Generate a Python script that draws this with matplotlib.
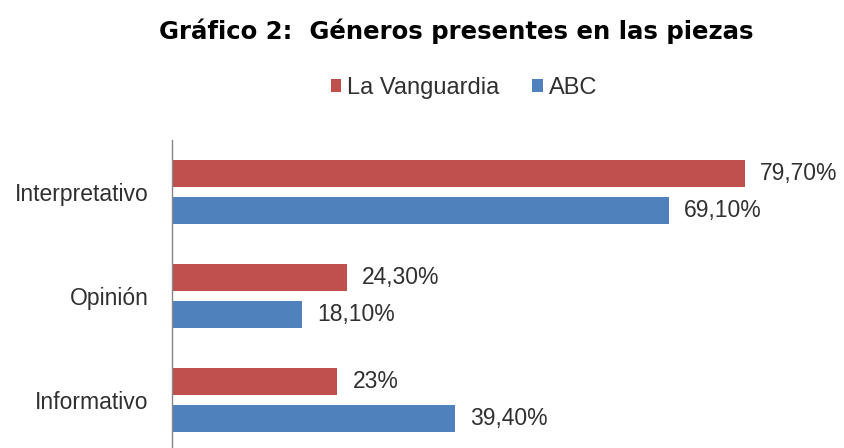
import numpy as np
import matplotlib
matplotlib.use("Agg")
import matplotlib.pyplot as plt

# Datos del gráfico
categorias = ["Informativo", "Opinión", "Interpretativo"]
vanguardia = [23.0, 24.3, 79.7]
abc = [39.4, 18.1, 69.1]
etiquetas_vanguardia = ["23%", "24,30%", "79,70%"]
etiquetas_abc = ["39,40%", "18,10%", "69,10%"]

plt.rcParams["font.family"] = ["Liberation Sans", "DejaVu Sans"]

rojo = "#C0504D"
azul = "#4F81BD"
texto = "#303030"

fig = plt.figure(figsize=(8.44, 4.48), dpi=100)
ax = fig.add_axes([172 / 844, -4 / 448, 1 - 172 / 844, 312 / 448])

y = np.arange(len(categorias))
alto = 0.26
desp = 0.175

b1 = ax.barh(y + desp, vanguardia, height=alto, color=rojo, label="La Vanguardia")
b2 = ax.barh(y - desp, abc, height=alto, color=azul, label="ABC")

ax.bar_label(b1, labels=etiquetas_vanguardia, padding=11, fontsize=16.5, color=texto)
ax.bar_label(b2, labels=etiquetas_abc, padding=11, fontsize=16.5, color=texto)

ax.set_xlim(0, 93.5)
ax.set_ylim(-0.5, len(categorias) - 0.5)
ax.set_yticks(y)
ax.set_yticklabels(categorias, fontsize=16.5, color=texto)
ax.tick_params(axis="y", length=0, pad=17)
ax.set_xticks([])
for lado in ["top", "right", "bottom"]:
    ax.spines[lado].set_visible(False)
ax.spines["left"].set_color("#888888")
ax.spines["left"].set_linewidth(1)

fig.text(456 / 844, 1 - 31 / 448, "Gráfico 2:  Géneros presentes en las piezas",
         ha="center", va="center", fontsize=17.6, fontweight="bold",
         family="DejaVu Sans")

fig.legend(handles=[b1, b2], loc="center", bbox_to_anchor=(464 / 844, 1 - 88 / 448),
           ncol=2, frameon=False, fontsize=17, handlelength=0.45, handleheight=0.45,
           handletextpad=0.25, columnspacing=1.4, labelcolor=texto)

fig.savefig("out.png", dpi=100)
